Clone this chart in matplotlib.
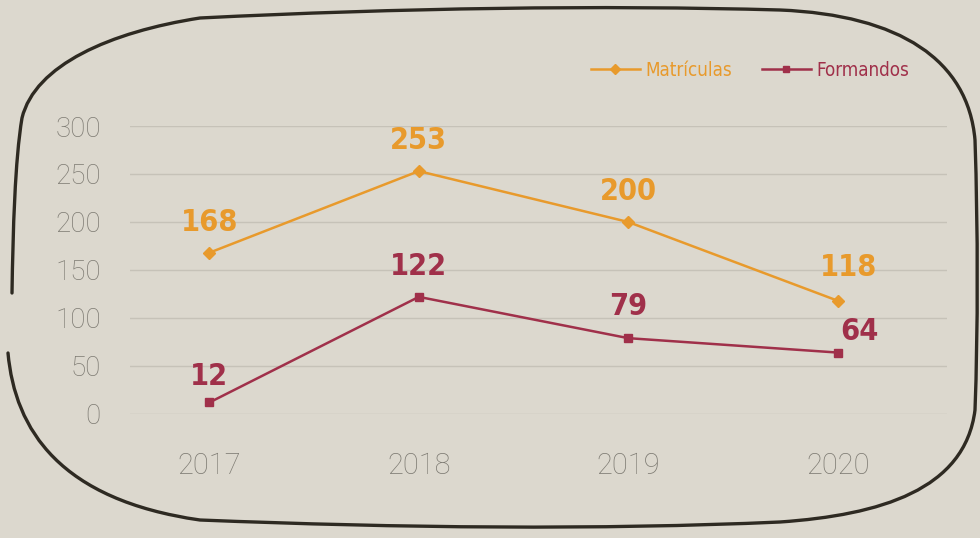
import matplotlib
matplotlib.use("Agg")
import matplotlib.pyplot as plt
from matplotlib.path import Path
from matplotlib.patches import PathPatch
from matplotlib.lines import Line2D
from matplotlib.font_manager import FontProperties

years = ["2017", "2018", "2019", "2020"]
matriculas = [168, 253, 200, 118]
formandos = [12, 122, 79, 64]
yticks = [0, 50, 100, 150, 200, 250, 300]

BG = "#dcd8ce"
ORANGE = "#e89a2c"
MAROON = "#a0304a"
TICK = "#7d7a72"
W, H = 980, 538

tick_fp = FontProperties(family="Roboto", weight="light", size=20)
xtick_fp = FontProperties(family="Roboto", weight="light", size=21)
val_fp = FontProperties(family="DejaVu Sans", stretch="condensed", weight="bold", size=22)
leg_fp = FontProperties(family="DejaVu Sans", stretch="condensed", weight="normal", size=13.5)

fig = plt.figure(figsize=(W / 100, H / 100), dpi=100, facecolor=BG)
ax = fig.add_axes([130 / W, (H - 414) / H, (947 - 130) / W, (414 - 126) / H])
ax.set_facecolor(BG)

x = list(range(len(years)))
ax.plot(x, matriculas, color=ORANGE, lw=1.8, marker="D", ms=6, clip_on=False, zorder=3)
ax.plot(x, formandos, color=MAROON, lw=1.8, marker="s", ms=6, clip_on=False, zorder=3)

ax.set_xlim(-0.379, 3.522)
ax.set_ylim(0, 300)
ax.set_yticks(yticks)
ax.set_yticklabels([str(t) for t in yticks], fontproperties=tick_fp, color=TICK)
ax.set_xticks(x)
ax.set_xticklabels(years, fontproperties=xtick_fp, color=TICK)
ax.grid(axis="y", color="#c6c2b8", lw=1.0)
ax.set_axisbelow(True)
for s in ax.spines.values():
    s.set_visible(False)
ax.tick_params(axis="both", length=0)
ax.tick_params(axis="y", pad=21)
ax.tick_params(axis="x", pad=27)

m_off = [(0, 22), (0, 22), (0, 22), (8, 24)]
f_off = [(0, 19), (0, 22), (0, 23), (16, 15)]
for i, v in enumerate(matriculas):
    ax.annotate(str(v), (i, v), xytext=m_off[i], textcoords="offset points",
                color=ORANGE, fontproperties=val_fp, ha="center", va="center")
for i, v in enumerate(formandos):
    ax.annotate(str(v), (i, v), xytext=f_off[i], textcoords="offset points",
                color=MAROON, fontproperties=val_fp, ha="center", va="center")

handles = [Line2D([0], [0], color=ORANGE, lw=1.8, marker="D", ms=5),
           Line2D([0], [0], color=MAROON, lw=1.8, marker="s", ms=5)]
leg = fig.legend(handles, ["Matrículas", "Formandos"], loc="center",
                 bbox_to_anchor=(750 / W, (H - 70) / H), ncol=2, frameon=False,
                 handlelength=2.6, handletextpad=0.3, columnspacing=1.6,
                 prop=leg_fp)
leg.get_texts()[0].set_color(ORANGE)
leg.get_texts()[1].set_color(MAROON)

# hand-drawn rounded frame (pixel coords, y down)
pts = [
    ((12, 293), Path.MOVETO),
    ((13, 230), Path.CURVE4), ((15, 160), Path.CURVE4), ((22, 118), Path.CURVE4),
    ((35, 65), Path.CURVE4), ((110, 32), Path.CURVE4), ((200, 18), Path.CURVE4),
    ((400, 8), Path.CURVE4), ((600, 5), Path.CURVE4), ((780, 10), Path.CURVE4),
    ((900, 15), Path.CURVE4), ((968, 60), Path.CURVE4), ((975, 140), Path.CURVE4),
    ((978, 230), Path.CURVE4), ((978, 330), Path.CURVE4), ((975, 410), Path.CURVE4),
    ((965, 490), Path.CURVE4), ((880, 515), Path.CURVE4), ((780, 522), Path.CURVE4),
    ((600, 530), Path.CURVE4), ((400, 528), Path.CURVE4), ((200, 520), Path.CURVE4),
    ((60, 500), Path.CURVE4), ((15, 430), Path.CURVE4), ((8, 353), Path.CURVE4),
]
verts = [(px / W, 1 - py / H) for (px, py), _ in pts]
codes = [c for _, c in pts]
frame = PathPatch(Path(verts, codes), transform=fig.transFigure, fill=False,
                  edgecolor="#2e2a22", lw=2.4, capstyle="round")
fig.patches.append(frame)

fig.savefig("out.png", dpi=100, facecolor=BG)
